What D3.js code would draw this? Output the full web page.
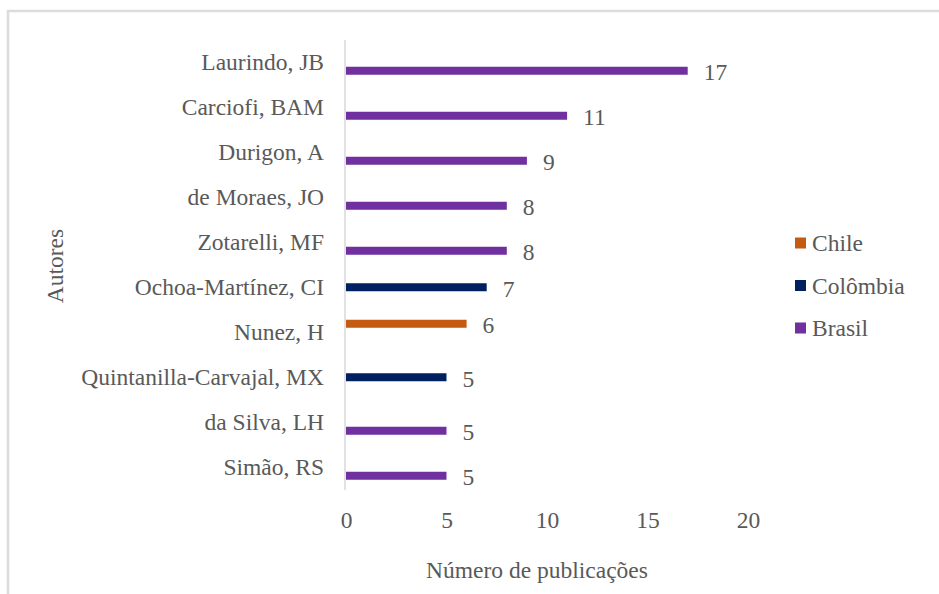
<!DOCTYPE html>
<html>
<head>
<meta charset="utf-8">
<script src="https://cdn.jsdelivr.net/npm/d3@7"></script>
<style>
  body { margin: 0; background: #fff; }
  svg text { font-family: "Liberation Serif", Tinos, "Times New Roman", Times, "DejaVu Serif", serif !important; fill: #595959; }
</style>
</head>
<body>
<div id="chart"></div>
<script>
// data
const authors = ['Laurindo, JB', 'Carciofi, BAM', 'Durigon, A', 'de Moraes, JO', 'Zotarelli, MF',
  'Ochoa-Martínez, CI', 'Nunez, H', 'Quintanilla-Carvajal, MX', 'da Silva, LH', 'Simão, RS']
const counts = [17, 11, 9, 8, 8, 7, 6, 5, 5, 5]
const countries = ['Brasil', 'Brasil', 'Brasil', 'Brasil', 'Brasil',
  'Colômbia', 'Chile', 'Colômbia', 'Brasil', 'Brasil']
const series = ['Chile', 'Colômbia', 'Brasil']
const seriesColors = ['#C55A11', '#002060', '#7030A0']
const xTicks = [0, 5, 10, 15, 20]

const width = 939
const height = 594
const fontSize = 23.5

const svg = d3.select('#chart').append('svg')
  .attr('width', width)
  .attr('height', height)

// frame (only top and left edges show in the picture)
svg.append('line').attr('x1', 7).attr('x2', width).attr('y1', 11).attr('y2', 11)
  .attr('stroke', '#dcdcdc').attr('stroke-width', 2.5)
svg.append('line').attr('x1', 8).attr('x2', 8).attr('y1', 10).attr('y2', height)
  .attr('stroke', '#dcdcdc').attr('stroke-width', 2.5)

const x = d3.scaleLinear().domain([0, 20]).range([346, 748])
const y = d3.scaleBand().domain(authors).range([40, 490])
// each category holds one slot per country, like a clustered bar chart
const slot = d3.scaleBand().domain(series).range([-12.75, 12.75])
const color = d3.scaleOrdinal().domain(series).range(seriesColors)

const data = authors.map((a, i) => ({ author: a, value: counts[i], country: countries[i] }))
const barY = d => y(d.author) + y.bandwidth() / 2 + slot(d.country)

// y axis
const yAxis = svg.append('g')
  .attr('transform', `translate(${x(0)},0)`)
  .call(d3.axisLeft(y).tickSize(0).tickPadding(22))
yAxis.attr('font-family', null).attr('font-size', null)
yAxis.select('.domain').remove()
yAxis.selectAll('text')
  .style('font-size', fontSize + 'px')
  .attr('fill', '#595959')

svg.append('line')
  .attr('x1', x(0) - 1).attr('x2', x(0) - 1)
  .attr('y1', 40).attr('y2', 490)
  .attr('stroke', '#d9d9d9').attr('stroke-width', 1.5)

// x axis
const xAxis = svg.append('g')
  .attr('transform', 'translate(0,490)')
  .call(d3.axisBottom(x).tickValues(xTicks).tickSize(0).tickPadding(21))
xAxis.attr('font-family', null).attr('font-size', null)
xAxis.select('.domain').remove()
xAxis.selectAll('text')
  .style('font-size', fontSize + 'px')
  .attr('fill', '#595959')

// bars
svg.selectAll('rect.bar')
  .data(data)
  .join('rect')
    .attr('class', 'bar')
    .attr('x', x(0))
    .attr('y', d => barY(d))
    .attr('width', d => x(d.value) - x(0))
    .attr('height', slot.bandwidth() - 0.5)
    .attr('fill', d => color(d.country))

// value labels
svg.selectAll('text.val')
  .data(data)
  .join('text')
    .attr('class', 'val')
    .attr('x', d => x(d.value) + 16)
    .attr('y', d => barY(d) + slot.bandwidth() / 2 + 9)
    .style('font-size', fontSize + 'px')
    .text(d => d.value)

// axis titles
svg.append('text')
  .attr('x', 537).attr('y', 578)
  .attr('text-anchor', 'middle')
  .style('font-size', fontSize + 'px')
  .text('Número de publicações')

svg.append('text')
  .attr('transform', 'translate(63,266) rotate(-90)')
  .attr('text-anchor', 'middle')
  .style('font-size', fontSize + 'px')
  .text('Autores')

// legend
const legend = svg.selectAll('g.legend')
  .data(series)
  .join('g')
    .attr('class', 'legend')
    .attr('transform', (d, i) => `translate(795,${243 + i * 42.5})`)
legend.append('rect')
  .attr('x', 0).attr('y', -5.5)
  .attr('width', 11).attr('height', 11)
  .attr('fill', d => color(d))
legend.append('text')
  .attr('x', 17).attr('y', 8)
  .style('font-size', fontSize + 'px')
  .text(d => d)
</script>
</body>
</html>
